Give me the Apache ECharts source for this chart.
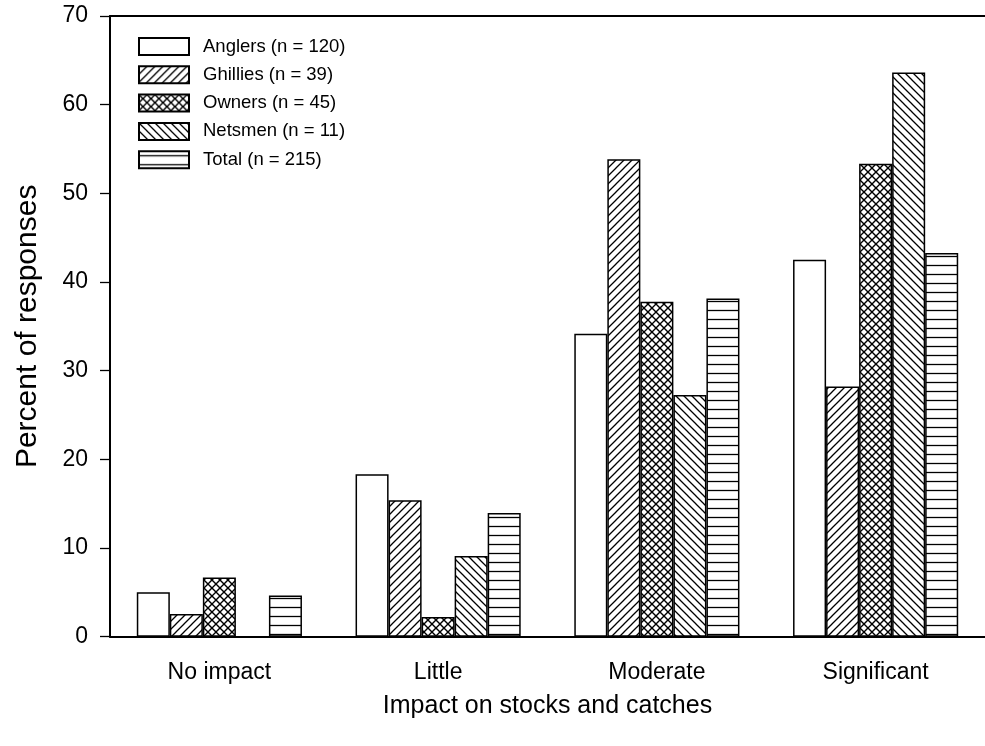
<!DOCTYPE html>
<html>
<head>
<meta charset="utf-8">
<script src="https://cdn.jsdelivr.net/npm/echarts@6/dist/echarts.min.js"></script>
<style>
  html, body { margin: 0; padding: 0; background: #fff; }
  #chart { width: 985px; height: 746px; }
</style>
</head>
<body>
<div id="chart"></div>
<script>
// Survey responses: percent of each group choosing each impact level
const categories = ['No impact', 'Little', 'Moderate', 'Significant'];
const groupNames = ['Anglers (n = 120)', 'Ghillies (n = 39)', 'Owners (n = 45)', 'Netsmen (n = 11)', 'Total (n = 215)'];
const anglers  = [5.00, 18.33, 34.17, 42.50];
const ghillies = [2.56, 15.38, 53.85, 28.21];
const owners   = [6.67, 2.22, 37.78, 53.33];
const netsmen  = [0, 9.09, 27.27, 63.64];
const total    = [4.65, 13.95, 38.14, 43.26];
const yTicks = { min: 0, max: 70, interval: 10 };

// Black-and-white hatch fills drawn onto small tiles
function hatchTile(kind) {
  const s = kind === 'horizontal' ? 9 : 8;
  const c = document.createElement('canvas');
  c.width = s; c.height = s;
  const g = c.getContext('2d');
  g.fillStyle = '#fff';
  g.fillRect(0, 0, s, s);
  g.strokeStyle = '#000';
  g.lineWidth = kind === 'cross' ? 1.4 : 1.3;
  const fwd = () => {
    g.beginPath();
    g.moveTo(-1, s + 1); g.lineTo(s + 1, -1);
    g.moveTo(-1, 1); g.lineTo(1, -1);
    g.moveTo(s - 1, s + 1); g.lineTo(s + 1, s - 1);
    g.stroke();
  };
  const back = () => {
    g.beginPath();
    g.moveTo(-1, -1); g.lineTo(s + 1, s + 1);
    g.moveTo(-1, s - 1); g.lineTo(1, s + 1);
    g.moveTo(s - 1, -1); g.lineTo(s + 1, 1);
    g.stroke();
  };
  if (kind === 'forward') fwd();
  if (kind === 'backward') back();
  if (kind === 'cross') { fwd(); back(); }
  if (kind === 'horizontal') {
    g.beginPath();
    g.moveTo(0, s / 2); g.lineTo(s, s / 2);
    g.stroke();
  }
  return c;
}

function fill(kind) {
  if (kind === 'none') return '#fff';
  return { image: hatchTile(kind), repeat: 'repeat' };
}

const seriesData = [anglers, ghillies, owners, netsmen, total];
const fills = ['none', 'forward', 'cross', 'backward', 'horizontal'];

const font = 'Liberation Sans, Arial, sans-serif';
const chart = echarts.init(document.getElementById('chart'), null, { renderer: 'canvas' });

chart.setOption({
  animation: false,
  backgroundColor: '#fff',
  textStyle: { fontFamily: font, color: '#000' },
  legend: {
    orient: 'vertical',
    left: 133,
    top: 32,
    icon: 'rect',
    itemWidth: 50,
    itemHeight: 17,
    itemGap: 9.3,
    textStyle: { fontFamily: font, fontSize: 18.5, lineHeight: 17, color: '#000', padding: [0, 0, 0, 9] },
    data: groupNames
  },
  grid: { left: 110, top: 16, width: 883, height: 620.7 },
  xAxis: [{
    type: 'category',
    data: categories,
    position: 'bottom',
    axisLine: { lineStyle: { color: '#000', width: 2 } },
    axisTick: { alignWithLabel: true, length: 10, lineStyle: { color: '#000', width: 1.3 } },
    axisLabel: { color: '#000', fontSize: 23, fontFamily: font, margin: 24 },
    name: 'Impact on stocks and catches',
    nameLocation: 'middle',
    nameGap: 57,
    nameTextStyle: { fontSize: 25, fontFamily: font, color: '#000' }
  }, {
    type: 'category',
    data: categories,
    position: 'top',
    axisLine: { lineStyle: { color: '#000', width: 2 } },
    axisTick: { show: false },
    axisLabel: { show: false }
  }],
  yAxis: {
    type: 'value',
    min: yTicks.min,
    max: yTicks.max,
    interval: yTicks.interval,
    axisLine: { show: true, lineStyle: { color: '#000', width: 2 } },
    axisTick: { show: true, length: 10, lineStyle: { color: '#000', width: 1.3 } },
    splitLine: { show: false },
    axisLabel: { color: '#000', fontSize: 23, fontFamily: font, margin: 22 },
    name: 'Percent of responses',
    nameLocation: 'middle',
    nameGap: 67,
    nameTextStyle: { fontSize: 30, fontFamily: font, color: '#000' }
  },
  series: groupNames.map((name, i) => ({
    name: name,
    type: 'bar',
    xAxisIndex: 0,
    data: seriesData[i],
    barGap: 0,
    barCategoryGap: '24.5%',
    itemStyle: { color: fill(fills[i]), borderColor: '#000', borderWidth: 1.5 }
  }))
});
</script>
</body>
</html>
